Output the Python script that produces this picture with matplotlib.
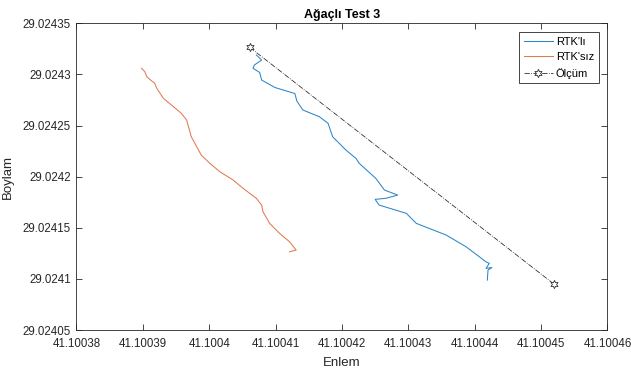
import matplotlib
matplotlib.use('Agg')
import matplotlib.pyplot as plt
from matplotlib.ticker import FuncFormatter, MultipleLocator

# RTK'li track (enlem, boylam)
rtk_x = [41.1004071, 41.1004079, 41.1004068, 41.1004066, 41.1004076, 41.1004079,
         41.1004099, 41.1004129, 41.1004132, 41.1004141, 41.1004166, 41.1004179,
         41.1004186, 41.1004206, 41.1004221, 41.1004226, 41.1004251, 41.1004264,
         41.1004284, 41.1004266, 41.1004250, 41.1004256, 41.1004297, 41.1004312,
         41.1004357, 41.1004387, 41.1004417, 41.1004422, 41.1004417, 41.1004426,
         41.1004420, 41.1004419]
rtk_y = [29.0243190, 29.0243141, 29.0243092, 29.0243060, 29.0243019, 29.0242945,
         29.0242872, 29.0242813, 29.0242740, 29.0242652, 29.0242586, 29.0242522,
         29.0242390, 29.0242260, 29.0242179, 29.0242130, 29.0241983, 29.0241869,
         29.0241820, 29.0241788, 29.0241778, 29.0241722, 29.0241641, 29.0241543,
         29.0241429, 29.0241314, 29.0241167, 29.0241152, 29.0241103, 29.0241111,
         29.0241086, 29.0240988]

# RTK'siz track
nortk_x = [41.1003898, 41.1003903, 41.1003906, 41.1003913, 41.1003918, 41.1003921,
           41.1003931, 41.1003943, 41.1003958, 41.1003966, 41.1003968, 41.1003973,
           41.1003988, 41.1004001, 41.1004016, 41.1004036, 41.1004051, 41.1004071,
           41.1004079, 41.1004081, 41.1004091, 41.1004106, 41.1004121, 41.1004131,
           41.1004121]
nortk_y = [29.0243060, 29.0243026, 29.0242977, 29.0242938, 29.0242913, 29.0242864,
           29.0242766, 29.0242701, 29.0242619, 29.0242554, 29.0242505, 29.0242390,
           29.0242211, 29.0242130, 29.0242048, 29.0241967, 29.0241886, 29.0241788,
           29.0241722, 29.0241657, 29.0241543, 29.0241445, 29.0241363, 29.0241282,
           29.0241265]

# olcum (measured start / end)
olcum_x = [41.1004061, 41.1004520]
olcum_y = [29.0243265, 29.0240946]

plt.rcParams['font.family'] = ['Liberation Sans', 'DejaVu Sans']
axcol = '#262626'

fig = plt.figure(figsize=(6.31, 3.70), dpi=100)
ax = fig.add_axes([0.1212, 0.1081, 0.8415, 0.8289])

ax.plot(rtk_x, rtk_y, color='#2b86c8', lw=0.75, label="RTK'lı")
ax.plot(nortk_x, nortk_y, color='#e07a50', lw=0.75, label="RTK'sız")
ax.plot(olcum_x, olcum_y, color='#333333', lw=0.6, ls='-.',
        marker=(6, 1, 0), ms=6, mfc='white', mec='#333333', mew=0.6, label='Ölçüm')

ax.set_xlim(41.10038, 41.10046)
ax.set_ylim(29.02405, 29.02435)
ax.xaxis.set_major_locator(MultipleLocator(1e-5))
ax.yaxis.set_major_locator(MultipleLocator(5e-5))


def fmt(v, pos):
    return ('%.5f' % v).rstrip('0').rstrip('.')


ax.xaxis.set_major_formatter(FuncFormatter(fmt))
ax.yaxis.set_major_formatter(FuncFormatter(fmt))

ax.tick_params(direction='in', top=True, right=True, length=4, width=0.6,
               colors=axcol, labelsize=8.3)
ax.tick_params(axis='x', pad=6)
ax.tick_params(axis='y', pad=4)
for s in ax.spines.values():
    s.set_color(axcol)
    s.set_linewidth(0.6)

ax.set_title('Ağaçlı Test 3', fontsize=9, fontweight='bold', pad=4)
ax.set_xlabel('Enlem', fontsize=9.5, color=axcol, labelpad=5)
ax.set_ylabel('Boylam', fontsize=9.5, color=axcol, labelpad=6)

leg = ax.legend(loc='upper right', fontsize=8, fancybox=False, framealpha=1,
                edgecolor=axcol, borderaxespad=0.8, handlelength=2.6,
                handletextpad=0.3, labelspacing=0.5, borderpad=0.4)
leg.get_frame().set_linewidth(0.6)

fig.savefig('out.png', dpi=100)
